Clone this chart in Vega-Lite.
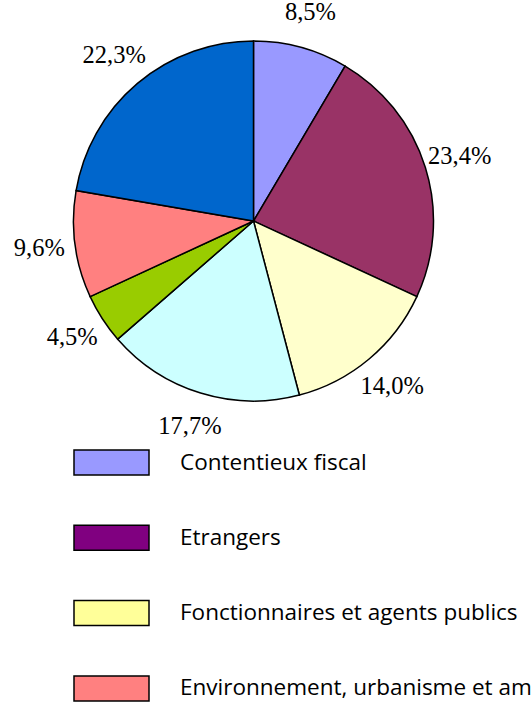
{
  "$schema": "https://vega.github.io/schema/vega-lite/v6.json",
  "width": 507,
  "height": 442,
  "autosize": {"type": "none"},
  "padding": {"left": 0, "top": 0, "right": 24, "bottom": 262},
  "background": "white",
  "config": {"view": {"stroke": null}},
  "data": {
    "values": [
      {"cat": "Contentieux fiscal", "pct": 8.5, "lab": "8,5%", "o": 1},
      {"cat": "Etrangers", "pct": 23.4, "lab": "23,4%", "o": 2},
      {"cat": "Fonctionnaires et agents publics", "pct": 14.0, "lab": "14,0%", "o": 3},
      {"cat": "Police", "pct": 17.7, "lab": "17,7%", "o": 4},
      {"cat": "Travail et emploi", "pct": 4.5, "lab": "4,5%", "o": 5},
      {"cat": "Environnement, urbanisme et aménagement", "pct": 9.6, "lab": "9,6%", "o": 6},
      {"cat": "Autres", "pct": 22.3, "lab": "22,3%", "o": 7}
    ]
  },
  "layer": [
    {
      "mark": {"type": "arc", "outerRadius": 180, "stroke": "black", "strokeWidth": 1.5},
      "encoding": {
        "theta": {"field": "pct", "type": "quantitative", "stack": true},
        "order": {"field": "o", "type": "quantitative"},
        "fill": {
          "field": "cat",
          "type": "nominal",
          "scale": {
            "domain": ["Contentieux fiscal", "Etrangers", "Fonctionnaires et agents publics", "Police", "Travail et emploi", "Environnement, urbanisme et aménagement", "Autres"],
            "range": ["#9999FF", "#993366", "#FFFFCC", "#CCFFFF", "#99CC00", "#FF8080", "#0066CC"]
          },
          "legend": null
        }
      }
    },
    {
      "mark": {"type": "text", "radius": 216, "font": "Liberation Serif", "fontSize": 24.5, "color": "black", "align": "center", "baseline": "middle"},
      "encoding": {
        "theta": {"field": "pct", "type": "quantitative", "stack": true},
        "order": {"field": "o", "type": "quantitative"},
        "text": {"field": "lab", "type": "nominal"}
      }
    },
    {
      "mark": {"type": "text", "text": ""},
      "encoding": {
        "color": {
          "field": "cat",
          "type": "nominal",
          "scale": {
            "domain": ["Contentieux fiscal", "Etrangers", "Fonctionnaires et agents publics", "Environnement, urbanisme et aménagement", "Police", "Travail et emploi", "Autres"],
            "range": ["#9999FF", "#800080", "#FFFF99", "#FF8080", "#CCFFFF", "#99CC00", "#0066CC"]
          },
          "legend": {
            "orient": "none",
            "legendX": 75,
            "legendY": 426,
            "direction": "vertical",
            "title": null,
            "symbolType": "M-1.049,-0.35H1.049V0.35H-1.049Z",
            "symbolSize": 5112,
            "symbolStrokeColor": "black",
            "symbolStrokeWidth": 1.5,
            "symbolOpacity": 1,
            "labelFont": "Open Sans",
            "labelFontSize": 22.5,
            "labelColor": "black",
            "labelOffset": 32,
            "labelLimit": 1000,
            "rowPadding": 22.3,
            "padding": 0,
            "offset": 0
          }
        }
      }
    }
  ]
}
